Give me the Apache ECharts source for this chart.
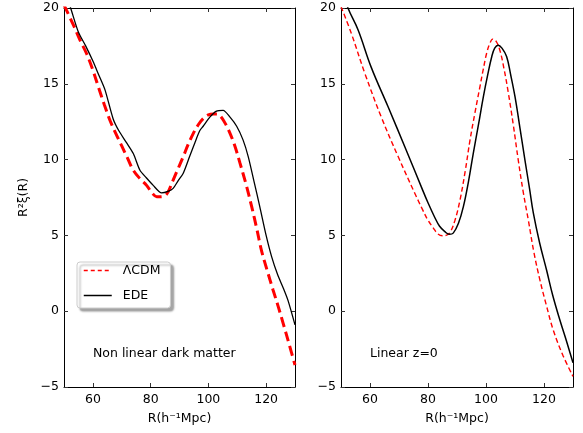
<!DOCTYPE html>
<html>
<head>
<meta charset="utf-8">
<script src="https://cdn.jsdelivr.net/npm/echarts@6/dist/echarts.min.js"></script>
<style>
html,body{margin:0;padding:0;background:#fff;}
#c{width:583px;height:433px;}
</style>
</head>
<body>
<div id="c"></div>
<script>
// ---- data (R in h^-1 Mpc, R^2 xi(R)) ----
const xTicks = [60, 80, 100, 120];
const yTicks = [-5, 0, 5, 10, 15, 20];
const seriesNames = ['ΛCDM', 'EDE'];
const panelLabels = ['Non linear dark matter', 'Linear z=0'];

const nlEDE_R = [50,52.3,55,57.5,60,62,64.2,67,69,71.7,74,76.3,78.5,80.9,83.8,86,87.8,89.5,91.3,93.5,95.3,97,98.2,100.5,102.8,105.1,107.5,109.8,112,113.8,116,117.8,120,121.9,124,126,127.6,130];
const nlEDE_V = [21.3,20.0,18.4,17.5,16.5,15.6,14.6,12.7,11.9,11.1,10.4,9.3,8.8,8.3,7.8,7.9,8.1,8.6,9.1,10.2,11.1,11.9,12.2,12.8,13.2,13.25,12.8,12.2,11.3,10.2,8.4,6.9,5.0,3.6,2.4,1.5,0.7,-0.9];

const nlLCDM_R = [50,53.2,55.5,57.8,60,61.9,64,65.9,68,70,72,74,76.5,78.6,80.5,82.1,83.5,85.5,87.8,89.5,91.3,93,94.7,96.5,98.2,100,101.7,103,104,105.5,106.9,109,110.9,113,115,116.8,118.4,120.5,122.4,124.2,125.9,128,130];
const nlLCDM_V = [20.2,18.9,17.9,17.0,15.9,14.8,13.6,12.6,11.7,10.9,10.1,9.3,8.7,8.3,7.8,7.55,7.55,7.7,8.65,9.4,10.2,11.0,11.7,12.3,12.7,12.95,13.0,13.0,12.9,12.5,12.0,11.0,9.8,8.4,6.9,5.4,4.0,2.6,1.4,0.3,-0.8,-2.2,-3.55];

const linEDE_R = [50,52.4,55.9,60.4,66.2,72,77.7,80,82.3,84,85.8,87.4,88.7,90.5,92.2,94,95.6,97.4,99.1,100.6,102,103,104.2,105.5,107.1,108.5,110,111.7,113.4,115,116.3,118.5,120.9,123,125.5,127.8,130];
const linEDE_V = [21.4,20.0,18.55,16.1,13.5,10.85,8.2,7.15,6.2,5.6,5.25,5.07,5.15,5.8,6.9,8.6,10.4,12.3,14.15,15.6,16.8,17.35,17.55,17.35,16.8,15.6,14.15,12.1,10.0,8.1,6.5,4.5,2.7,1.05,-0.6,-2.0,-3.4];

const linLCDM_R = [50,53.6,58.2,63.9,69.7,75.4,78,80,81.8,83.4,85,86.2,87.6,89.3,91,92.8,94.5,96.2,97.9,99,100.2,101.3,102.3,103.5,104.8,106.2,107.7,109.4,111.1,112.8,114.6,116.5,118.6,120.8,123.2,126.5,130];
const linLCDM_V = [20.1,18.3,15.7,12.8,10.2,7.8,6.75,6.0,5.5,5.1,4.98,5.0,5.2,6.0,7.3,9.2,11.3,13.1,14.8,15.9,17.0,17.65,17.95,17.8,17.2,16.0,14.4,12.3,10.0,7.9,6.0,3.9,2.05,0.4,-1.25,-2.9,-4.3];

const zip = (a, b) => a.map((x, i) => [x, b[i]]);
const FONT = 'DejaVu Sans';
const fmtY = v => v < 0 ? '\u2212' + Math.abs(v) : String(v);

function xAx(gridIndex, top) {
  return {
    type: 'value', gridIndex, min: 50, max: 130, position: top ? 'top' : 'bottom',
    axisLine: { show: true, onZero: false, lineStyle: { color: '#000', width: 1 } },
    axisTick: { show: true, inside: true, length: 4, customValues: xTicks, lineStyle: { color: '#333' } },
    axisLabel: { show: !top, customValues: xTicks, color: '#000', fontFamily: FONT, fontSize: 12.5, margin: 6 },
    splitLine: { show: false },
    name: top ? '' : 'R(h\u207B\u00B9Mpc)', nameLocation: 'middle', nameGap: 25,
    nameTextStyle: { color: '#000', fontFamily: FONT, fontSize: 12.5 }
  };
}
function yAx(gridIndex, right, withName) {
  return {
    type: 'value', gridIndex, min: -5, max: 20, interval: 5, position: right ? 'right' : 'left',
    axisLine: { show: true, onZero: false, lineStyle: { color: '#000', width: 1 } },
    axisTick: { show: true, inside: true, length: 4, lineStyle: { color: '#333' } },
    axisLabel: { show: !right, color: '#000', fontFamily: FONT, fontSize: 12.5, margin: 5, formatter: fmtY },
    splitLine: { show: false },
    name: withName ? 'R\u00B2\u03BE(R)' : '', nameLocation: 'middle', nameGap: 34, nameRotate: 90,
    nameTextStyle: { color: '#000', fontFamily: FONT, fontSize: 12.5 }
  };
}

const chart = echarts.init(document.getElementById('c'), null, { renderer: 'canvas' });
chart.setOption({
  animation: false,
  backgroundColor: '#fff',
  grid: [
    { left: 64, right: 288, top: 8, bottom: 46 },
    { left: 341, right: 10, top: 8, bottom: 46 }
  ],
  xAxis: [xAx(0, false), xAx(1, false), xAx(0, true), xAx(1, true)],
  yAxis: [yAx(0, false, true), yAx(1, false, false), yAx(0, true, false), yAx(1, true, false)],
  legend: {
    left: 77, top: 262, orient: 'vertical',
    data: [
      { name: seriesNames[0], itemStyle: { opacity: 0 }, lineStyle: { width: 1.5, type: [4, 3] } },
      { name: seriesNames[1], itemStyle: { opacity: 0 }, lineStyle: { width: 1.5 } }
    ],
    itemStyle: { opacity: 0 },
    itemWidth: 28, itemHeight: 10, itemGap: 12,
    padding: [2, 10, 6, 6],
    backgroundColor: '#fff', borderColor: '#ccc', borderWidth: 1, borderRadius: 3,
    shadowColor: 'rgba(0,0,0,0.35)', shadowBlur: 2, shadowOffsetX: 3, shadowOffsetY: 3,
    textStyle: { color: '#000', fontFamily: FONT, fontSize: 12.5, padding: [0, 0, 0, 6] }
  },
  series: [
    { name: seriesNames[0], type: 'line', xAxisIndex: 0, yAxisIndex: 0, data: zip(nlLCDM_R, nlLCDM_V),
      showSymbol: false, symbol: 'none', smooth: 0.35, clip: true,
      lineStyle: { color: '#ff0000', width: 3, type: [10, 5] }, itemStyle: { color: '#ff0000' }, z: 2 },
    { name: seriesNames[1], type: 'line', xAxisIndex: 0, yAxisIndex: 0, data: zip(nlEDE_R, nlEDE_V),
      showSymbol: false, symbol: 'none', smooth: 0.25, clip: true,
      lineStyle: { color: '#000', width: 1.3 }, itemStyle: { color: '#000' }, z: 3 },
    { name: seriesNames[0], type: 'line', xAxisIndex: 1, yAxisIndex: 1, data: zip(linLCDM_R, linLCDM_V),
      showSymbol: false, symbol: 'none', smooth: 0.4, clip: true,
      lineStyle: { color: '#ff0000', width: 1.4, type: [5, 3] }, itemStyle: { color: '#ff0000' }, z: 2 },
    { name: seriesNames[1], type: 'line', xAxisIndex: 1, yAxisIndex: 1, data: zip(linEDE_R, linEDE_V),
      showSymbol: false, symbol: 'none', smooth: 0.4, clip: true,
      lineStyle: { color: '#000', width: 1.5 }, itemStyle: { color: '#000' }, z: 3 }
  ],
  graphic: [
    { type: 'text', left: 93, top: 347, style: { text: panelLabels[0], fill: '#000', font: '12.5px "DejaVu Sans"' } },
    { type: 'text', left: 370, top: 347, style: { text: panelLabels[1], fill: '#000', font: '12.5px "DejaVu Sans"' } }
  ]
});
</script>
</body>
</html>
